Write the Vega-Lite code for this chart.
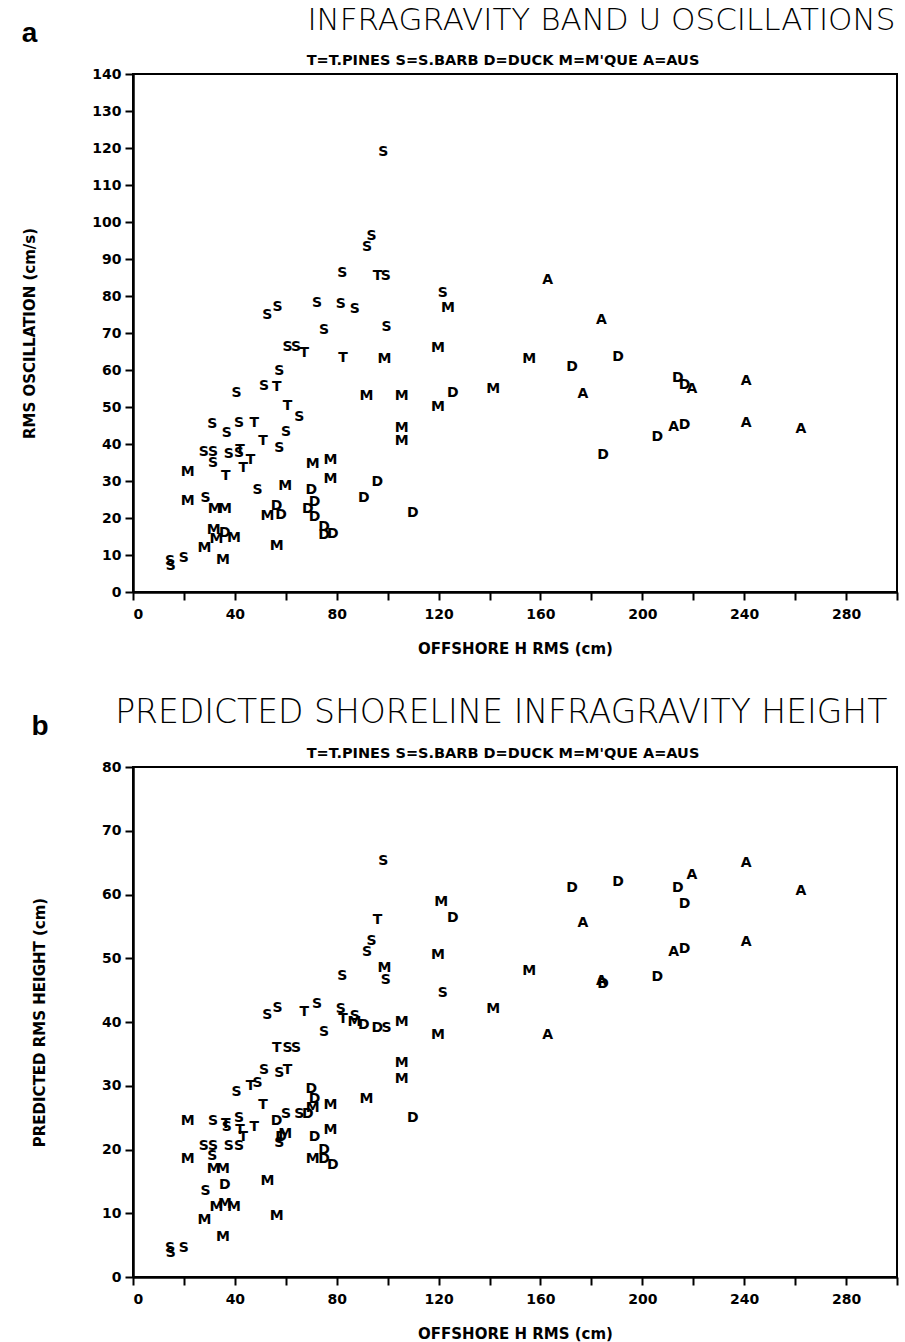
{
  "$schema": "https://vega.github.io/schema/vega-lite/v6.json",
  "background": "white",
  "padding": {"left": 21, "top": 4, "right": 4, "bottom": 2},
  "spacing": 39,
  "config": {
    "font": "DejaVu Sans",
    "view": {"stroke": "black", "strokeWidth": 2},
    "axis": {"domainColor": "black", "domainWidth": 2.5, "tickColor": "black", "tickWidth": 2, "tickSize": 8, "labelFont": "DejaVu Sans", "labelFontWeight": "bold", "labelFontSize": 14, "labelColor": "black", "titleFont": "DejaVu Sans", "titleFontWeight": "bold", "titleFontSize": 15, "titleColor": "black", "grid": false, "labelPadding": 4},
    "text": {"font": "DejaVu Sans", "fontWeight": "bold", "fontSize": 14, "color": "black", "baseline": "middle", "align": "center"}
  },
  "datasets": {
    "a": [
      {"site":"T","h":67.3,"v":64.5},{"site":"T","h":56.5,"v":55.3},{"site":"T","h":60.7,"v":50.3},{"site":"T","h":47.6,"v":45.8},{"site":"T","h":51.1,"v":40.9},{"site":"T","h":42.0,"v":38.5},{"site":"T","h":46.2,"v":35.7},{"site":"T","h":43.3,"v":33.4},{"site":"T","h":36.4,"v":31.4},{"site":"T","h":82.5,"v":63.2},{"site":"T","h":96.0,"v":85.4},
      {"site":"S","h":52.7,"v":74.9},{"site":"S","h":56.8,"v":76.9},{"site":"S","h":72.3,"v":78.2},{"site":"S","h":75.0,"v":70.8},{"site":"S","h":60.7,"v":66.3},{"site":"S","h":64.0,"v":66.3},{"site":"S","h":57.4,"v":59.8},{"site":"S","h":51.5,"v":55.7},{"site":"S","h":40.7,"v":53.7},{"site":"S","h":65.3,"v":47.4},{"site":"S","h":31.1,"v":45.4},{"site":"S","h":36.8,"v":43.1},{"site":"S","h":41.6,"v":45.8},{"site":"S","h":60.1,"v":43.3},{"site":"S","h":57.4,"v":38.8},{"site":"S","h":27.8,"v":37.9},{"site":"S","h":31.4,"v":37.9},{"site":"S","h":31.4,"v":35.0},{"site":"S","h":37.6,"v":37.3},{"site":"S","h":41.6,"v":37.5},{"site":"S","h":28.5,"v":25.3},{"site":"S","h":48.9,"v":27.6},{"site":"S","h":19.9,"v":9.1},{"site":"S","h":14.5,"v":8.3},{"site":"S","h":14.8,"v":7.0},{"site":"S","h":98.3,"v":119.0},{"site":"S","h":93.7,"v":96.2},{"site":"S","h":91.9,"v":93.3},{"site":"S","h":82.2,"v":86.1},{"site":"S","h":99.3,"v":85.4},{"site":"S","h":81.6,"v":77.8},{"site":"S","h":87.1,"v":76.4},{"site":"S","h":121.6,"v":80.7},{"site":"S","h":99.6,"v":71.5},
      {"site":"M","h":21.5,"v":32.5},{"site":"M","h":21.5,"v":24.6},{"site":"M","h":32.1,"v":22.4},{"site":"M","h":36.1,"v":22.4},{"site":"M","h":31.7,"v":16.8},{"site":"M","h":32.8,"v":14.2},{"site":"M","h":39.6,"v":14.5},{"site":"M","h":28.1,"v":11.8},{"site":"M","h":35.3,"v":8.6},{"site":"M","h":59.8,"v":28.6},{"site":"M","h":52.8,"v":20.5},{"site":"M","h":56.4,"v":12.4},{"site":"M","h":70.6,"v":34.7},{"site":"M","h":77.5,"v":35.7},{"site":"M","h":77.5,"v":30.5},{"site":"M","h":119.8,"v":49.9},{"site":"M","h":105.5,"v":44.2},{"site":"M","h":105.5,"v":40.8},{"site":"M","h":123.7,"v":76.7},{"site":"M","h":98.7,"v":62.9},{"site":"M","h":119.8,"v":65.9},{"site":"M","h":91.7,"v":53.0},{"site":"M","h":105.5,"v":53.0},{"site":"M","h":141.4,"v":55.0},{"site":"M","h":155.6,"v":62.9},
      {"site":"D","h":36.1,"v":16.0},{"site":"D","h":58.1,"v":20.8},{"site":"D","h":56.4,"v":23.2},{"site":"D","h":70.0,"v":27.6},{"site":"D","h":71.3,"v":24.2},{"site":"D","h":68.6,"v":22.4},{"site":"D","h":71.3,"v":20.2},{"site":"D","h":75.0,"v":17.5},{"site":"D","h":75.0,"v":15.5},{"site":"D","h":78.5,"v":15.7},{"site":"D","h":95.9,"v":29.6},{"site":"D","h":90.6,"v":25.3},{"site":"D","h":109.9,"v":21.3},{"site":"D","h":125.6,"v":53.7},{"site":"D","h":172.4,"v":60.7},{"site":"D","h":190.5,"v":63.6},{"site":"D","h":213.9,"v":57.8},{"site":"D","h":216.6,"v":55.9},{"site":"D","h":216.6,"v":45.1},{"site":"D","h":205.9,"v":41.8},{"site":"D","h":184.6,"v":37.0},
      {"site":"A","h":162.8,"v":84.3},{"site":"A","h":183.9,"v":73.5},{"site":"A","h":176.7,"v":53.5},{"site":"A","h":219.5,"v":55.0},{"site":"A","h":240.8,"v":56.9},{"site":"A","h":212.3,"v":44.5},{"site":"A","h":240.8,"v":45.8},{"site":"A","h":262.3,"v":44.0}
    ],
    "b": [
      {"site":"S","h":14.5,"v":4.6},{"site":"S","h":14.8,"v":3.7},{"site":"S","h":19.9,"v":4.5},{"site":"S","h":28.5,"v":13.5},{"site":"S","h":31.1,"v":19.0},{"site":"S","h":31.4,"v":24.5},{"site":"S","h":36.8,"v":23.5},{"site":"S","h":27.8,"v":20.5},{"site":"S","h":31.4,"v":20.5},{"site":"S","h":37.6,"v":20.5},{"site":"S","h":41.6,"v":20.5},{"site":"S","h":40.7,"v":29.0},{"site":"S","h":48.9,"v":30.5},{"site":"S","h":52.7,"v":41.1},{"site":"S","h":56.8,"v":42.2},{"site":"S","h":72.3,"v":42.8},{"site":"S","h":75.0,"v":38.5},{"site":"S","h":81.6,"v":42.0},{"site":"S","h":87.1,"v":41.0},{"site":"S","h":99.6,"v":39.0},{"site":"S","h":60.7,"v":36.0},{"site":"S","h":64.0,"v":36.0},{"site":"S","h":57.4,"v":32.0},{"site":"S","h":57.4,"v":21.0},{"site":"S","h":60.1,"v":25.5},{"site":"S","h":65.3,"v":25.5},{"site":"S","h":82.2,"v":47.2},{"site":"S","h":91.9,"v":51.0},{"site":"S","h":93.7,"v":52.7},{"site":"S","h":99.3,"v":46.6},{"site":"S","h":98.3,"v":65.2},{"site":"S","h":121.6,"v":44.5},{"site":"S","h":41.6,"v":25.0},{"site":"S","h":51.5,"v":32.5},
      {"site":"T","h":36.4,"v":24.0},{"site":"T","h":43.3,"v":22.0},{"site":"T","h":42.0,"v":23.0},{"site":"T","h":46.2,"v":30.0},{"site":"T","h":51.1,"v":27.0},{"site":"T","h":67.3,"v":41.6},{"site":"T","h":82.5,"v":40.5},{"site":"T","h":56.5,"v":36.0},{"site":"T","h":60.7,"v":32.5},{"site":"T","h":96.0,"v":56.0},{"site":"T","h":47.6,"v":23.5},
      {"site":"M","h":35.3,"v":6.2},{"site":"M","h":28.1,"v":9.0},{"site":"M","h":32.8,"v":11.0},{"site":"M","h":36.1,"v":11.5},{"site":"M","h":39.6,"v":11.0},{"site":"M","h":31.7,"v":17.0},{"site":"M","h":35.3,"v":17.0},{"site":"M","h":21.5,"v":18.5},{"site":"M","h":21.5,"v":24.5},{"site":"M","h":52.8,"v":15.0},{"site":"M","h":56.4,"v":9.5},{"site":"M","h":59.8,"v":22.5},{"site":"M","h":70.6,"v":26.5},{"site":"M","h":77.5,"v":27.0},{"site":"M","h":77.5,"v":23.0},{"site":"M","h":70.6,"v":18.5},{"site":"M","h":91.7,"v":28.0},{"site":"M","h":105.5,"v":31.0},{"site":"M","h":105.5,"v":33.5},{"site":"M","h":87.0,"v":40.0},{"site":"M","h":105.5,"v":40.0},{"site":"M","h":119.8,"v":38.0},{"site":"M","h":98.7,"v":48.4},{"site":"M","h":119.8,"v":50.5},{"site":"M","h":121.0,"v":58.9},{"site":"M","h":155.6,"v":48.0},{"site":"M","h":141.4,"v":42.0},
      {"site":"D","h":36.1,"v":14.5},{"site":"D","h":56.4,"v":24.5},{"site":"D","h":58.1,"v":22.0},{"site":"D","h":68.6,"v":25.5},{"site":"D","h":70.0,"v":29.5},{"site":"D","h":71.3,"v":28.0},{"site":"D","h":71.3,"v":22.0},{"site":"D","h":75.0,"v":20.0},{"site":"D","h":75.0,"v":18.5},{"site":"D","h":78.5,"v":17.5},{"site":"D","h":109.9,"v":25.0},{"site":"D","h":95.9,"v":39.0},{"site":"D","h":125.6,"v":56.3},{"site":"D","h":184.6,"v":46.0},{"site":"D","h":205.9,"v":47.0},{"site":"D","h":216.6,"v":51.5},{"site":"D","h":172.4,"v":61.0},{"site":"D","h":190.5,"v":62.0},{"site":"D","h":213.9,"v":61.0},{"site":"D","h":216.6,"v":58.5},{"site":"D","h":90.6,"v":39.5},
      {"site":"A","h":162.8,"v":38.0},{"site":"A","h":183.9,"v":46.5},{"site":"A","h":212.3,"v":51.0},{"site":"A","h":240.8,"v":52.5},{"site":"A","h":219.5,"v":63.0},{"site":"A","h":240.8,"v":65.0},{"site":"A","h":262.3,"v":60.5},{"site":"A","h":176.7,"v":55.5}
    ]
  },
  "vconcat": [
    {
      "title": {"text": "INFRAGRAVITY BAND U OSCILLATIONS", "font": "DejaVu Sans", "fontSize": 31, "fontWeight": 200, "color": "black", "anchor": "middle", "dx": 141, "offset": -17},
      "vconcat": [
        {
          "title": {"text": "a", "font": "Liberation Sans", "fontSize": 28, "fontWeight": "bold", "color": "black", "anchor": "start", "frame": "bounds", "offset": 4},
          "vconcat": [
            {
              "title": {"text": "T=T.PINES S=S.BARB D=DUCK M=M'QUE A=AUS", "font": "DejaVu Sans", "fontSize": 14.5, "fontWeight": "bold", "color": "black", "anchor": "middle", "dx": -12, "offset": -1},
              "data": {"name": "a"},
              "width": 764,
              "height": 518,
              "mark": {"type": "text"},
              "encoding": {
                "x": {"field": "h", "type": "quantitative", "scale": {"domain": [0, 300], "nice": false, "zero": false},
                      "axis": {"title": "OFFSHORE H RMS (cm)", "values": [0,20,40,60,80,100,120,140,160,180,200,220,240,260,280,300], "labelExpr": "datum.value % 40 == 0 ? datum.label : ''", "labelPadding": 7, "titlePadding": 20}},
                "y": {"field": "v", "type": "quantitative", "scale": {"domain": [0, 140], "nice": false},
                      "axis": {"title": "RMS OSCILLATION (cm/s)", "values": [0,10,20,30,40,50,60,70,80,90,100,110,120,130,140], "titlePadding": 54}},
                "text": {"field": "site"}
              }
            }
          ]
        }
      ]
    },
    {
      "title": {"text": "PREDICTED SHORELINE INFRAGRAVITY HEIGHT", "font": "DejaVu Sans", "fontSize": 33, "fontWeight": 200, "color": "black", "anchor": "middle", "dx": 36, "offset": -17},
      "vconcat": [
        {
          "title": {"text": "b", "font": "Liberation Sans", "fontSize": 28, "fontWeight": "bold", "color": "black", "anchor": "start", "frame": "bounds", "offset": 4},
          "vconcat": [
            {
              "title": {"text": "T=T.PINES S=S.BARB D=DUCK M=M'QUE A=AUS", "font": "DejaVu Sans", "fontSize": 14.5, "fontWeight": "bold", "color": "black", "anchor": "middle", "dx": -12, "offset": -1},
              "data": {"name": "b"},
              "width": 764,
              "height": 510,
              "mark": {"type": "text"},
              "encoding": {
                "x": {"field": "h", "type": "quantitative", "scale": {"domain": [0, 300], "nice": false, "zero": false},
                      "axis": {"title": "OFFSHORE H RMS (cm)", "values": [0,20,40,60,80,100,120,140,160,180,200,220,240,260,280,300], "labelExpr": "datum.value % 40 == 0 ? datum.label : ''", "labelPadding": 7, "titlePadding": 20}},
                "y": {"field": "v", "type": "quantitative", "scale": {"domain": [0, 80], "nice": false},
                      "axis": {"title": "PREDICTED RMS HEIGHT (cm)", "values": [0,10,20,30,40,50,60,70,80], "titlePadding": 54}},
                "text": {"field": "site"}
              }
            }
          ]
        }
      ]
    }
  ]
}
